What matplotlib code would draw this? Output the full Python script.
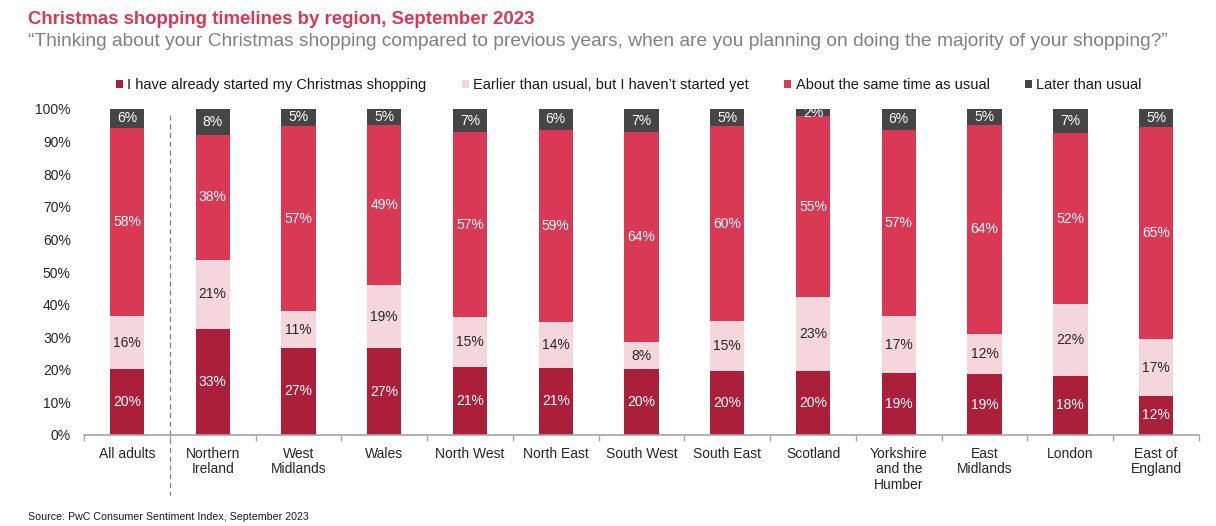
import matplotlib
matplotlib.use("Agg")
import matplotlib.pyplot as plt
from matplotlib.patches import Patch
from matplotlib.lines import Line2D
from matplotlib.transforms import blended_transform_factory

plt.rcParams['font.family'] = ['Liberation Sans', 'DejaVu Sans']

categories = ["All adults", "Northern\nIreland", "West\nMidlands", "Wales", "North West",
              "North East", "South West", "South East", "Scotland",
              "Yorkshire\nand the\nHumber", "East\nMidlands", "London", "East of\nEngland"]
already_started = [20.2, 32.6, 26.7, 26.6, 20.9, 20.6, 20.2, 19.6, 19.7, 19.0, 18.7, 18.1, 12.0]
earlier_than_usual = [16.3, 21.1, 11.3, 19.3, 15.3, 14.1, 8.3, 15.3, 22.6, 17.4, 12.3, 22.1, 17.4]
same_time = [57.7, 38.4, 56.8, 49.2, 56.7, 59.0, 64.4, 59.8, 55.4, 57.2, 64.1, 52.4, 65.2]
later_than_usual = [5.8, 7.9, 5.2, 4.9, 7.1, 6.3, 7.1, 5.3, 2.3, 6.4, 4.9, 7.4, 5.4]

series_names = ["I have already started my Christmas shopping",
                "Earlier than usual, but I haven\u2019t started yet",
                "About the same time as usual",
                "Later than usual"]
series_colors = ["#AC1F3B", "#F6D6DD", "#DA3955", "#454545"]
label_colors = ["white", "#262626", "white", "white"]
yticks = [0, 10, 20, 30, 40, 50, 60, 70, 80, 90, 100]

W, H = 1216, 526
fig = plt.figure(figsize=(W / 100, H / 100), dpi=100)
ax = fig.add_axes([84 / W, 1 - 435 / H, (1199 - 84) / W, 326 / H])

series = [already_started, earlier_than_usual, same_time, later_than_usual]
x = list(range(len(categories)))
bottoms = [0.0] * len(categories)
for vals, color, lc in zip(series, series_colors, label_colors):
    ax.bar(x, vals, width=0.40, bottom=bottoms, color=color, edgecolor='none', zorder=2)
    for xi, v, b in zip(x, vals, bottoms):
        ax.text(xi, b + v / 2, f"{round(v):d}%", ha='center', va='center',
                color=lc, fontsize=10, zorder=3)
    bottoms = [b + v for b, v in zip(bottoms, vals)]

ax.set_xlim(-0.5, len(categories) - 0.5)
ax.set_ylim(0, 100)
ax.set_yticks(yticks)
ax.set_yticklabels([f"{t}%" for t in yticks], fontsize=10, color='#262626')
ax.tick_params(axis='y', length=0, pad=9.5)

ax.set_xticks(x)
ax.set_xticklabels(categories, fontsize=10, color='#262626', linespacing=1.15)
ax.tick_params(axis='x', which='major', length=0, pad=8.5)
ax.set_xticks([i - 0.5 for i in range(len(categories) + 1)], minor=True)
ax.tick_params(axis='x', which='minor', length=4, width=1, color='#A6A6A6', direction='out')

for s in ['top', 'right', 'left']:
    ax.spines[s].set_visible(False)
ax.spines['bottom'].set_color('#A6A6A6')
ax.spines['bottom'].set_linewidth(1.2)

# dashed separator between All adults and the regions
tr = blended_transform_factory(ax.transData, ax.transAxes)
ax.add_line(Line2D([0.5, 0.5], [0.982, -0.184], transform=tr, color='#7F7F7F',
                   linestyle=(0, (4, 3)), linewidth=0.9, clip_on=False, zorder=1))

# legend
handles = [Patch(facecolor=c, edgecolor='none', label=n) for n, c in zip(series_names, series_colors)]
fig.legend(handles=handles, loc='center', bbox_to_anchor=(0.517, 1 - 85 / H), ncol=4,
           frameon=False, fontsize=10.5, handlelength=0.5, handleheight=0.5,
           handletextpad=0.3, columnspacing=2.4, labelcolor='#1a1a1a')

fig.text(28 / W, 1 - 19 / H, "Christmas shopping timelines by region, September 2023",
         fontsize=13.4, fontweight='bold', color='#D93954', ha='left', va='center')
fig.text(28 / W, 1 - 41 / H,
         "\u201cThinking about your Christmas shopping compared to previous years, when are you planning on doing the majority of your shopping?\u201d",
         fontsize=13.75, color='#808080', ha='left', va='center')
fig.text(28 / W, 1 - 517 / H, "Source: PwC Consumer Sentiment Index, September 2023",
         fontsize=7.7, color='#1a1a1a', ha='left', va='center')

fig.savefig("out.png", dpi=100, facecolor='white')
